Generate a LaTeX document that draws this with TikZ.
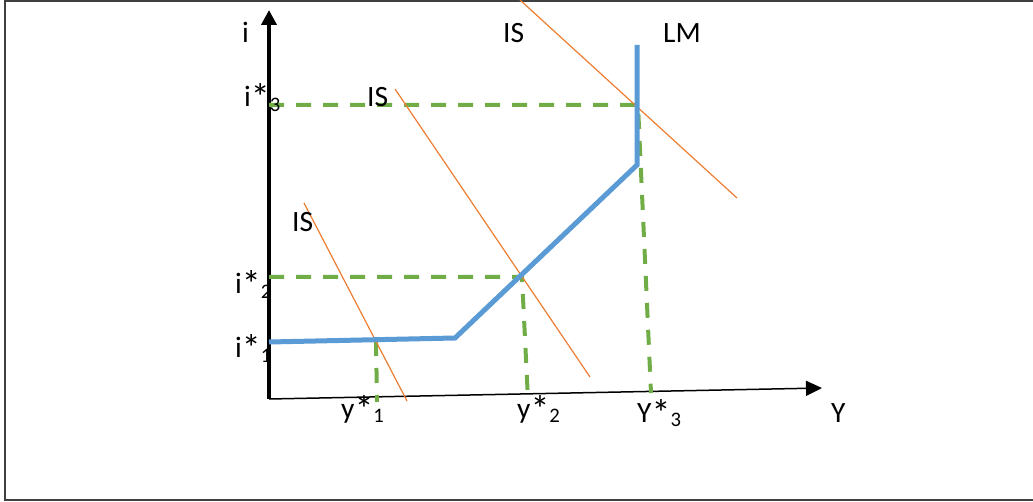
\documentclass[tikz,border=0pt]{standalone}
\usepackage{fontspec}
\setmainfont{Carlito}
\usetikzlibrary{arrows.meta}
\definecolor{lmblue}{HTML}{5B9BD5}
\definecolor{isorange}{HTML}{ED7D31}
\definecolor{eqgreen}{HTML}{70AD47}
\definecolor{frame}{HTML}{404040}
\newcommand{\starmark}{\raisebox{-4pt}{\fontsize{38}{38}\selectfont*}}

\begin{document}
\begin{tikzpicture}[x=1pt,y=-1pt,font=\fontsize{29.5}{32}\selectfont,
  lbl/.style={anchor=base west,inner sep=0pt},
  isline/.style={isorange,line width=1.2pt},
  guide/.style={eqgreen,line width=4pt,dash pattern=on 15pt off 12pt}]
  \useasboundingbox (0,0) rectangle (1033,502);
  \draw[frame,line width=2pt] (1033,1.5) -- (4.5,1.5) -- (4.5,500) -- (1033,500);
  % axes
  \coordinate (o) at (269,399);
  \coordinate (itip) at (269,10);
  \coordinate (ytip) at (822,388);
  \draw[line width=4pt,-{Triangle[length=15pt,width=15pt]}] (o) -- (itip);
  \draw[line width=1.5pt,-{Triangle[length=16pt,width=15pt]}] (o) -- (ytip);
  % equilibria
  \coordinate (e1) at (376,341);
  \coordinate (e2) at (522,277);
  \coordinate (e3) at (638,105);
  \coordinate (h2) at (269,277);
  \coordinate (h3) at (269,105);
  \coordinate (f1) at (377,402);
  \coordinate (f2) at (528,400);
  \coordinate (f3) at (651,393);
  \draw[guide] (h3) -- (e3) -- (f3);
  \draw[guide] (h2) -- (e2) -- (f2);
  \draw[guide] (e1) -- (f1);
  % IS curves
  \foreach \n/\a/\b in {1/{304,203}/{407,401},2/{395,89}/{590,377},3/{520,0}/{737,198}}{
    \coordinate (is\n a) at (\a);
    \coordinate (is\n b) at (\b);
    \draw[isline] (is\n a) -- (is\n b);
  }
  % LM curve
  \coordinate (lm0) at (269,342);
  \coordinate (lm1) at (455,338);
  \coordinate (lm2) at (637,165);
  \coordinate (lm3) at (637,45);
  \draw[lmblue,line width=5pt] (lm0) -- (lm1) -- (lm2) -- (lm3);
  % labels
  \node[lbl] (ilab) at (242,43) {i};
  \node[lbl] (ylab) at (831,422) {Y};
  \node[lbl] (lmlab) at (663,43) {LM};
  \node[lbl] (is3lab) at (503,43) {IS};
  \node[lbl] (is2lab) at (367,107) {IS};
  \node[lbl] (is1lab) at (292,232) {IS};
  \node[lbl] (i3lab) at (244,107) {i\starmark\textsubscript{3}};
  \node[lbl] (i2lab) at (235,294) {i\starmark\textsubscript{2}};
  \node[lbl] (i1lab) at (235,358) {i\starmark\textsubscript{1}};
  \node[lbl] (y1lab) at (341,418) {y\starmark\textsubscript{1}};
  \node[lbl] (y2lab) at (517,418) {y\starmark\textsubscript{2}};
  \node[lbl] (y3lab) at (637,422) {Y\starmark\textsubscript{3}};
\end{tikzpicture}
\end{document}
